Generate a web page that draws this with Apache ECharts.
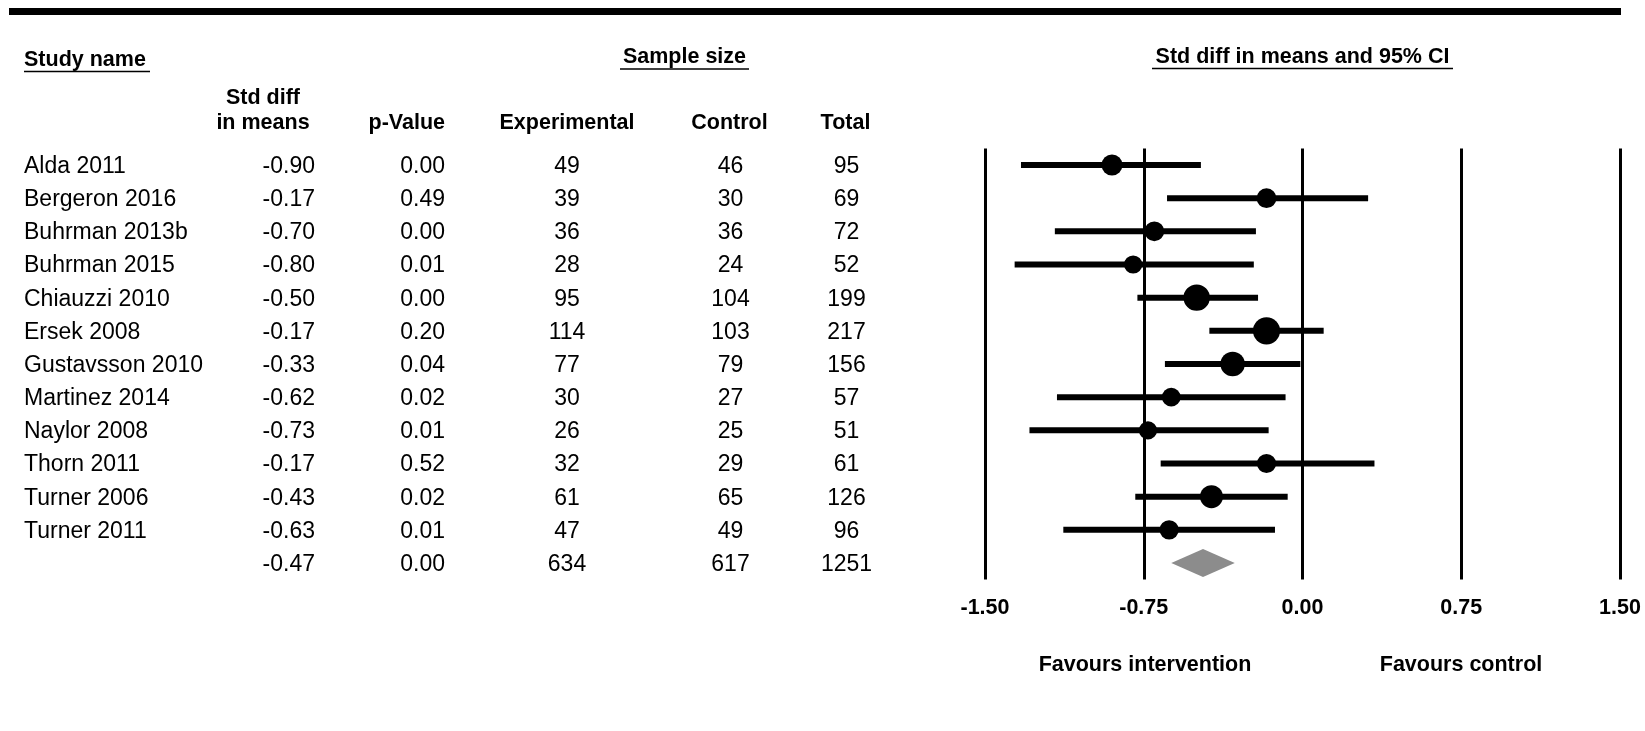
<!DOCTYPE html>
<html>
<head>
<meta charset="utf-8">
<script src="https://cdn.jsdelivr.net/npm/echarts@6/dist/echarts.min.js"></script>
<style>
html,body{margin:0;padding:0;background:#fff;}
#chart{width:1645px;height:731px;}
</style>
</head>
<body>
<div id="chart"></div>
<script>
// ---------- data ----------
const studies = ['Alda 2011','Bergeron 2016','Buhrman 2013b','Buhrman 2015','Chiauzzi 2010','Ersek 2008','Gustavsson 2010','Martinez 2014','Naylor 2008','Thorn 2011','Turner 2006','Turner 2011'];
const stdDiff = [-0.90,-0.17,-0.70,-0.80,-0.50,-0.17,-0.33,-0.62,-0.73,-0.17,-0.43,-0.63];
const lowerCI = [-1.33,-0.64,-1.17,-1.36,-0.78,-0.44,-0.65,-1.16,-1.29,-0.67,-0.79,-1.13];
const upperCI = [-0.48,0.31,-0.22,-0.23,-0.21,0.10,-0.01,-0.08,-0.16,0.34,-0.07,-0.13];
const pValues = ['0.00','0.49','0.00','0.01','0.00','0.20','0.04','0.02','0.01','0.52','0.02','0.01'];
const experimental = [49,39,36,28,95,114,77,30,26,32,61,47];
const control = [46,30,36,24,104,103,79,27,25,29,65,49];
const total = [95,69,72,52,199,217,156,57,51,61,126,96];
const summary = {est:-0.47, lower:-0.62, upper:-0.32, p:'0.00', experimental:634, control:617, total:1251};
const xTicks = [-1.50,-0.75,0.00,0.75,1.50];

// ---------- layout ----------
const FONT = "'Liberation Sans', Arial, sans-serif";
const GRID_LEFT = 985, GRID_W = 635, GRID_TOP = 148.4, GRID_H = 431.2;
const TEXT_SHIFT = 1.5;

const rowNames = studies.concat(['']);
const colStd = stdDiff.map(v => v.toFixed(2)).concat([summary.est.toFixed(2)]);
const colP = pValues.concat([summary.p]);
const colExp = experimental.map(String).concat([String(summary.experimental)]);
const colCtl = control.map(String).concat([String(summary.control)]);
const colTot = total.map(String).concat([String(summary.total)]);

function labelAxis(data, anchorX, align) {
  return {
    type: 'category', data: data, inverse: true, position: 'left', gridIndex: 1,
    offset: GRID_LEFT - anchorX,
    axisLine: {show: false}, axisTick: {show: false}, splitLine: {show: false},
    axisLabel: {interval: 0, margin: 0, align: align, color: '#000', fontFamily: FONT, fontSize: 23}
  };
}

const studyData = studies.map((s, i) => [stdDiff[i], i, lowerCI[i], upperCI[i]]);
const summaryData = [[summary.est, studies.length, summary.lower, summary.upper]];

const chart = echarts.init(document.getElementById('chart'), null, {renderer: 'canvas'});

function hdr(text, x, y, align, extra) {
  return Object.assign({
    type: 'text', x: x, y: y,
    style: {text: text, fill: '#000', font: 'bold 21.5px ' + FONT, textAlign: align, textVerticalAlign: 'middle'}
  }, extra || {});
}
function uline(x1, x2, y) {
  return {type: 'line', shape: {x1: x1, y1: y, x2: x2, y2: y}, style: {stroke: '#000', lineWidth: 1.5}};
}

chart.setOption({
  animation: false,
  backgroundColor: '#fff',
  grid: [
    {left: GRID_LEFT, width: GRID_W, top: GRID_TOP, height: GRID_H, containLabel: false},
    {left: GRID_LEFT, width: GRID_W, top: GRID_TOP + TEXT_SHIFT, height: GRID_H, containLabel: false}
  ],
  xAxis: [
    {
      type: 'value', min: -1.5, max: 1.5, interval: 0.75, gridIndex: 0,
      axisLine: {show: false}, axisTick: {show: false},
      splitLine: {show: true, lineStyle: {color: '#000', width: 3}},
      axisLabel: {margin: 17, color: '#000', fontFamily: FONT, fontWeight: 'bold', fontSize: 21.5,
        formatter: v => v.toFixed(2)}
    },
    {type: 'value', min: -1.5, max: 1.5, gridIndex: 1, show: false}
  ],
  yAxis: [
    {type: 'category', data: rowNames, inverse: true, gridIndex: 0, show: false},
    labelAxis(rowNames, 24, 'left'),
    labelAxis(colStd, 315, 'right'),
    labelAxis(colP, 445, 'right'),
    labelAxis(colExp, 567, 'center'),
    labelAxis(colCtl, 730.5, 'center'),
    labelAxis(colTot, 846.5, 'center')
  ],
  series: [
    {
      type: 'custom', xAxisIndex: 0, yAxisIndex: 0,
      encode: {x: 0, y: 1},
      data: studyData,
      renderItem: function (params, api) {
        const est = api.value(0), row = api.value(1), lo = api.value(2), hi = api.value(3);
        const pE = api.coord([est, row]), pL = api.coord([lo, row]), pH = api.coord([hi, row]);
        const size = 10 + 9.3 / (hi - lo);
        return {type: 'group', children: [
          {type: 'line', shape: {x1: pL[0], y1: pL[1], x2: pH[0], y2: pH[1]}, style: {stroke: '#000', lineWidth: 6}},
          {type: 'circle', shape: {cx: pE[0], cy: pE[1], r: size / 2}, style: {fill: '#000'}}
        ]};
      }
    },
    {
      type: 'custom', xAxisIndex: 0, yAxisIndex: 0,
      encode: {x: 0, y: 1},
      data: summaryData,
      renderItem: function (params, api) {
        const est = api.value(0), row = api.value(1), lo = api.value(2), hi = api.value(3);
        const pE = api.coord([est, row]), pL = api.coord([lo, row]), pH = api.coord([hi, row]);
        return {type: 'polygon', shape: {points: [[pL[0], pL[1]], [pE[0], pE[1] - 14], [pH[0], pH[1]], [pE[0], pE[1] + 14]]},
          style: {fill: '#8c8c8c'}};
      }
    }
  ],
  graphic: [
    {type: 'rect', shape: {x: 9, y: 8, width: 1612, height: 7}, style: {fill: '#000'}},
    hdr('Study name', 24, 60, 'left'), uline(24, 150, 71.5),
    hdr('Sample size', 684.5, 57.5, 'center'), uline(620, 749, 69),
    hdr('Std diff in means and 95% CI', 1302.5, 57, 'center'), uline(1152, 1453, 68.5),
    hdr('Std diff', 263, 98, 'center'),
    hdr('in means', 263, 123, 'center'),
    hdr('p-Value', 445, 123, 'right'),
    hdr('Experimental', 567, 123, 'center'),
    hdr('Control', 729.5, 123, 'center'),
    hdr('Total', 845.5, 123, 'center'),
    hdr('Favours intervention', 1145, 665, 'center'),
    hdr('Favours control', 1461, 665, 'center')
  ]
});
</script>
</body>
</html>
